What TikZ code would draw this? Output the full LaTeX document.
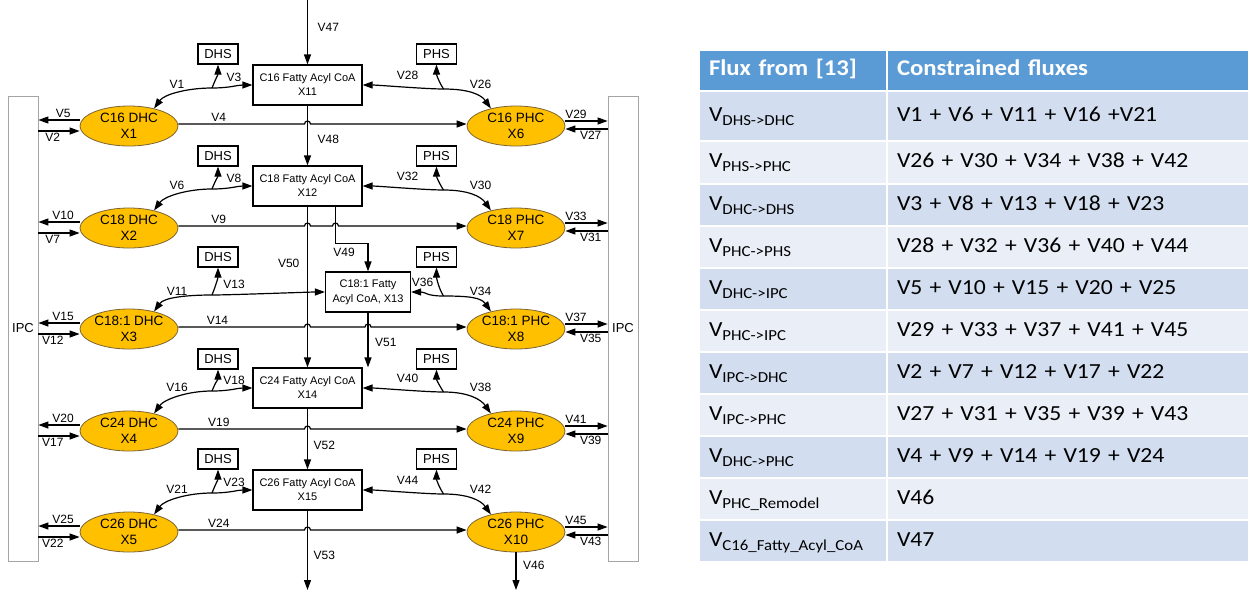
\documentclass[tikz,border=0pt]{standalone}
\usepackage{fontspec}
\setmainfont{Liberation Sans}
\newfontfamily\tabfont[FakeStretch=1.1]{Carlito}
\usetikzlibrary{arrows.meta,shapes.geometric,positioning,calc}
\definecolor{hcfill}{RGB}{255,192,0}
\definecolor{hcline}{RGB}{125,100,50}
\definecolor{wallgray}{RGB}{165,165,165}
\definecolor{hdrblue}{RGB}{91,155,213}
\definecolor{rowdark}{RGB}{210,222,239}
\definecolor{rowlight}{RGB}{234,239,247}
\newcommand\sub[1]{\raisebox{-4pt}{\fontsize{15.3}{16}\selectfont #1}}
\tikzset{
  pool/.style={
    % The shape:
    ellipse,
    minimum width=98pt, minimum height=40pt, inner sep=0pt,
    % The rest
    draw=hcline, line width=0.8pt, fill=hcfill,
    align=center, font=\fontsize{13.5}{16}\selectfont},
  coa/.style={
    rectangle,
    minimum width=109pt, minimum height=40pt, inner sep=0pt,
    draw, line width=1.2pt,
    align=center, font=\fontsize{11}{14}\selectfont},
  store/.style={
    rectangle,
    minimum width=40pt, minimum height=20pt, inner sep=0pt,
    draw, line width=1.2pt, font=\fontsize{13}{13}\selectfont},
  wall/.style={
    rectangle,
    minimum width=30pt, minimum height=465pt, inner sep=0pt,
    draw=wallgray, line width=0.8pt, font=\fontsize{13}{13}\selectfont},
  flux/.style={font=\fontsize{12}{12}\selectfont, inner sep=1.5pt},
  % The table:
  cell/.style={
    rectangle, draw=white, line width=2pt,
    inner xsep=10pt, inner ysep=0pt, text height=15pt, text depth=5pt,
    align=left, anchor=north west, font=\tabfont\fontsize{21.5}{24}\selectfont},
  head/.style={cell, fill=hdrblue, text=white,
    font=\tabfont\bfseries\fontsize{22.5}{24}\selectfont}
}

\begin{document}
\begin{tikzpicture}[x=1pt,y=-1pt,>={Triangle[length=10pt,width=7pt]},line width=1.2pt]
  \useasboundingbox (0,0) rectangle (1250,592);

  % the two IPC walls
  \node[wall] (ipcl) at (23,328.5)  {IPC};
  \node[wall] (ipcr) at (623,328.5) {IPC};

  % DHC and PHC pools
  \foreach \dn/\pn/\yy/\cn in {1/6/126/C16,2/7/228/C18,3/8/329/C18:1,4/9/431/C24,5/10/532/C26}{
    \node[pool] (x\dn) at (129,\yy) {\cn\ DHC\\X\dn};
    \node[pool] (x\pn) at (516,\yy) {\cn\ PHC\\X\pn};
  }

  % fatty acyl CoA column
  \node[coa] (x11) at (307.5,85)  {C16 Fatty Acyl CoA\\X11};
  \node[coa] (x12) at (307.5,186) {C18 Fatty Acyl CoA\\X12};
  \node[coa,minimum width=85pt,font=\fontsize{11}{15}\selectfont] (x13) at (368,292) {C18:1 Fatty\\Acyl CoA, X13};
  \node[coa] (x14) at (307.5,388) {C24 Fatty Acyl CoA\\X14};
  \node[coa] (x15) at (307.5,490) {C26 Fatty Acyl CoA\\X15};

  % DHS and PHS
  \foreach \n/\yy in {1/54,2/156,3/257,4/359,5/459}{
    \node[store] (d\n) at (218,\yy)   {DHS};
    \node[store] (p\n) at (436.5,\yy) {PHS};
  }

  % exchange with IPC
  \foreach \dn/\pn/\va/\vb/\vc/\vd in {1/6/V5/V2/V29/V27,2/7/V10/V7/V33/V31,
      3/8/V15/V12/V37/V35,4/9/V20/V17/V41/V39,5/10/V25/V22/V45/V43}{
    \coordinate (lo\dn) at ([yshift=6pt]x\dn.west);
    \coordinate (li\dn) at ([yshift=-5pt]x\dn.west);
    \coordinate (ro\dn) at ([yshift=5pt]x\pn.east);
    \coordinate (ri\dn) at ([yshift=-3pt]x\pn.east);
    \draw[->] (lo\dn) -- (lo\dn -| ipcl.east) node[flux,above,pos=0.4] {\va};
    \draw[->] (li\dn -| ipcl.east) -- (li\dn) node[flux,below,pos=0.35] {\vb};
    \draw[->] (ro\dn) -- (ro\dn -| ipcr.west) node[flux,above,pos=0.25] {\vc};
    \draw[->] (ri\dn -| ipcr.west) -- (ri\dn) node[flux,below,pos=0.4] {\vd};
  }

  % exchange with DHS, PHS and the CoA column
  \foreach \dn/\pn/\bx/\va/\vb/\vc/\vd/\lx in {1/6/x11/V1/V3/V28/V26/-36,2/7/x12/V6/V8/V32/V30/-36,
      3/8/x13/V11/V13/V36/V34/-21,4/9/x14/V16/V18/V40/V38/-36,5/10/x15/V21/V23/V44/V42/-36}{
    \coordinate (jl\dn) at ($(d\dn.south |- \bx.west)+(-6,3)$);
    \coordinate (jr\dn) at ($(p\dn.south |- \bx.east)+(7,4)$);
    \draw[<->] (x\dn.35) .. controls +(10,-14) and +(-25,0) .. (jl\dn)
                         .. controls +(18,0) and +(-15,0) .. (\bx.west);
    \draw[->] (jl\dn) .. controls +(4,-10) and +(0,10) .. (d\dn.south);
    \draw[<->] (\bx.east) .. controls +(15,0) and +(-18,0) .. (jr\dn)
                          .. controls +(25,0) and +(-10,-14) .. (x\pn.145);
    \draw[->] (jr\dn) .. controls +(-5,-8) and +(0,10) .. (p\dn.south);
    \node[flux] (la\dn) at ($(jl\dn)+(-35,-4)$)  {\va};
    \node[flux] (lb\dn) at ($(jl\dn)+(22,-11)$)  {\vb};
    \node[flux] (lc\dn) at ($(jr\dn)+(\lx,-14)$) {\vc};
    \node[flux] (ld\dn) at ($(jr\dn)+(37,-5)$)   {\vd};
  }

  % DHC -> PHC, hopping over the CoA column
  \foreach \dn/\pn in {1/6,2/7,3/8,4/9,5/10}{
    \coordinate (ra\dn) at ([yshift=2pt]x\dn.east);
    \coordinate (rb\dn) at ([yshift=2pt]x\pn.west);
    \coordinate (ha\dn) at (ra\dn -| x11);
  }
  \coordinate (v49) at ([xshift=28pt]x12.south);
  \coordinate (hb2) at (ra2 -| v49);
  \coordinate (hb3) at (ra3 -| x13);
  \draw[->] (ra1) -- node[flux,above,pos=0.32] {V4} ([xshift=-3pt]ha1)
    arc[start angle=180,end angle=0,radius=3pt] -- (rb1);
  \draw[->] (ra2) -- node[flux,above,pos=0.32] {V9} ([xshift=-3pt]ha2)
    arc[start angle=180,end angle=0,radius=3pt] -- ([xshift=-3pt]hb2)
    arc[start angle=180,end angle=0,radius=3pt] -- (rb2);
  \draw[->] (ra3) -- node[flux,above,pos=0.31] {V14} ([xshift=-3pt]ha3)
    arc[start angle=180,end angle=0,radius=3pt] -- ([xshift=-3pt]hb3)
    arc[start angle=180,end angle=0,radius=3pt] -- (rb3);
  \draw[->] (ra4) -- node[flux,above,pos=0.32] {V19} ([xshift=-3pt]ha4)
    arc[start angle=180,end angle=0,radius=3pt] -- (rb4);
  \draw[->] (ra5) -- node[flux,above,pos=0.32] {V24} ([xshift=-3pt]ha5)
    arc[start angle=180,end angle=0,radius=3pt] -- (rb5);

  % elongation down the CoA column
  \coordinate (feed) at (307.5,0);
  \coordinate (sink) at (307.5,590);
  \draw[->] (feed) -- (x11.north) node[flux,pos=0.42,right=8pt] {V47};
  \draw[->] (x11.south) -- (x12.north) node[flux,pos=0.57,right=8pt] {V48};
  \draw[->] (x12.south) -- (x14.north) node[flux,pos=0.35,left=6pt] {V50};
  \draw[->] (v49) -- ++(0,37) -| (x13.north);
  \node[flux] (l49) at (344,252) {V49};
  \draw[->] (x13.south) -- (x13.south |- x14.north) node[flux,pos=0.55,right=5pt] {V51};
  \draw[->] (x14.south) -- (x15.north) node[flux,pos=0.6,right=4pt] {V52};
  \draw[->] (x15.south) -- (sink) node[flux,pos=0.56,right=4pt] {V53};
  \draw[->] (x10.south) -- (x10.south |- sink) node[flux,pos=0.34,right=5pt] {V46};

  % flux table
  \node[head,text width=168pt,minimum height=41pt] (h1) at (698,49) {Flux from [13]};
  \node[head,text width=342pt,minimum height=41pt] (h2) at (886,49) {Constrained fluxes};
  \foreach \yy/\hh/\fc/\fl/\cl [count=\n] in {
      90/50/rowdark/{V\sub{DHS->DHC}}/{V1 + V6 + V11 + V16 +V21},
      140/43/rowlight/{V\sub{PHS->PHC}}/{V26 + V30 + V34 + V38 + V42},
      183/42/rowdark/{V\sub{DHC->DHS}}/{V3 + V8 + V13 + V18 + V23},
      225/42/rowlight/{V\sub{PHC->PHS}}/{V28 + V32 + V36 + V40 + V44},
      267/42/rowdark/{V\sub{DHC->IPC}}/{V5 + V10 + V15 + V20 + V25},
      309/42/rowlight/{V\sub{PHC->IPC}}/{V29 + V33 + V37 + V41 + V45},
      351/42/rowdark/{V\sub{IPC->DHC}}/{V2 + V7 + V12 + V17 + V22},
      393/42/rowlight/{V\sub{IPC->PHC}}/{V27 + V31 + V35 + V39 + V43},
      435/42/rowdark/{V\sub{DHC->PHC}}/{V4 + V9 + V14 + V19 + V24},
      477/42/rowlight/{V\sub{PHC\_Remodel}}/{V46},
      519/42/rowdark/{V\sub{C16\_Fatty\_Acyl\_CoA}}/{V47}}{
    \node[cell,fill=\fc,text width=168pt,minimum height=\hh pt] (f\n) at (698,\yy) {\fl};
    \node[cell,fill=\fc,text width=342pt,minimum height=\hh pt] (c\n) at (886,\yy) {\cl};
  }
\end{tikzpicture}
\end{document}
